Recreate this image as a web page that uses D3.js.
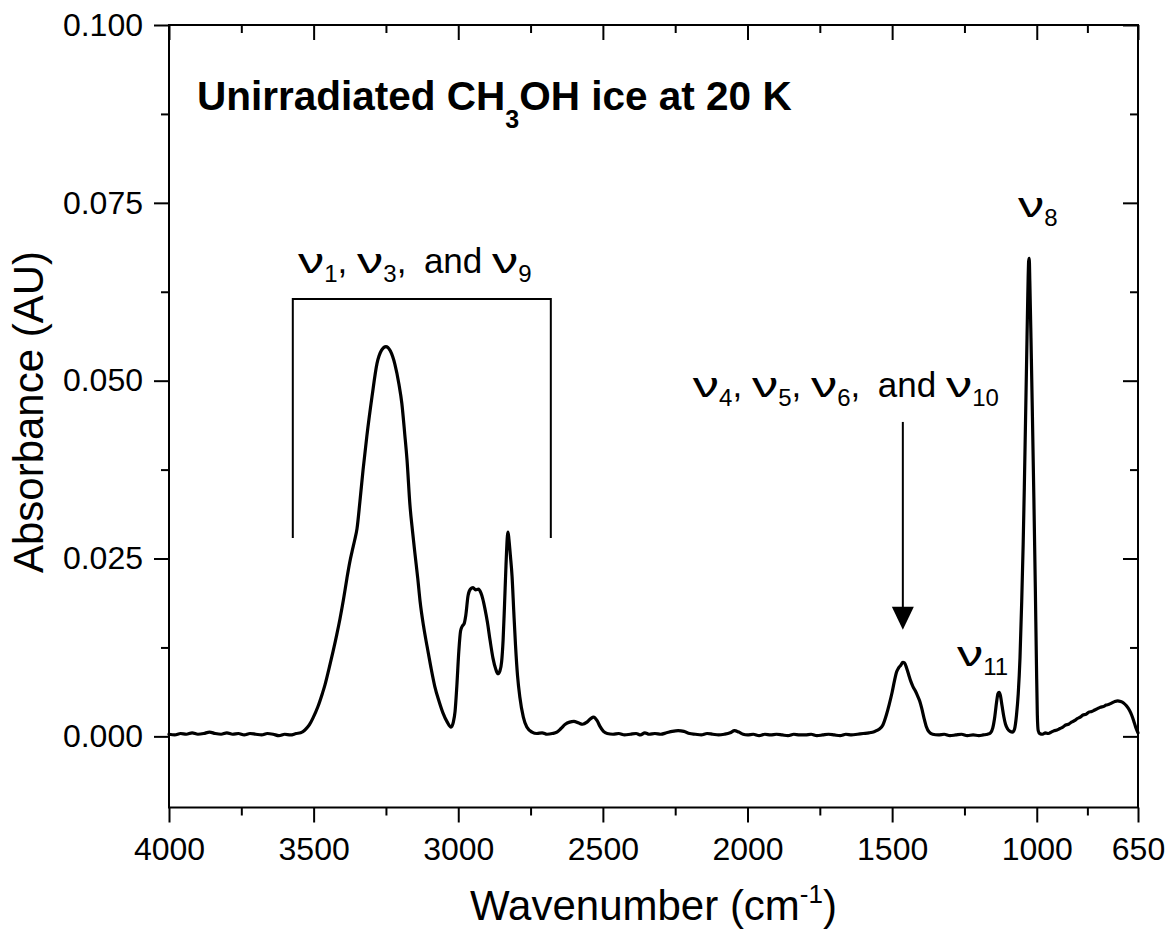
<!DOCTYPE html>
<html>
<head>
<meta charset="utf-8">
<script src="https://cdn.jsdelivr.net/npm/d3@7"></script>
<style>
  html, body { margin: 0; padding: 0; background: #fff; }
  svg { display: block; font-family: "Liberation Sans", Arial, sans-serif; }
  text { white-space: pre; }
</style>
</head>
<body>
<svg id="chart" width="1174" height="936"></svg>
<script>
// FTIR spectrum of unirradiated CH3OH ice at 20 K (wavenumber in cm^-1, absorbance in AU)
const wavenumber = [
  4000, 3980, 3960, 3940, 3920, 3900, 3880, 3860, 3840, 3820, 3800, 3780, 3760, 3740, 3720, 3700,
  3680, 3660, 3640, 3620, 3600, 3580, 3560, 3545, 3530, 3515, 3502, 3485, 3470, 3461, 3447, 3433,
  3420, 3409, 3397, 3385, 3375, 3367, 3358, 3350, 3340, 3329, 3316, 3298, 3281, 3265, 3250, 3235,
  3219, 3205, 3195, 3185, 3177, 3167, 3158, 3150, 3140, 3132, 3120, 3108, 3095, 3081, 3067, 3053,
  3038, 3025, 3017, 3011, 3005, 2998, 2992, 2986, 2980, 2974, 2966, 2958, 2949, 2940, 2930, 2922,
  2915, 2908, 2899, 2890, 2880, 2870, 2863, 2856, 2850, 2845, 2840, 2835, 2830, 2828, 2825, 2820,
  2814, 2808, 2802, 2795, 2787, 2775, 2763, 2745, 2728, 2710, 2693, 2675, 2659, 2645, 2630, 2615,
  2600, 2585, 2570, 2555, 2542, 2532, 2520, 2510, 2498, 2485, 2465, 2445, 2425, 2405, 2385, 2370,
  2355, 2340, 2320, 2300, 2280, 2260, 2240, 2220, 2200, 2180, 2160, 2140, 2120, 2100, 2080, 2060,
  2045, 2030, 2015, 2000, 1980, 1960, 1940, 1920, 1900, 1880, 1860, 1840, 1820, 1800, 1780, 1760,
  1740, 1720, 1700, 1680, 1660, 1640, 1620, 1600, 1580, 1560, 1545, 1532, 1520, 1510, 1500, 1492,
  1485, 1478, 1470, 1463, 1457, 1450, 1443, 1436, 1428, 1420, 1412, 1405, 1398, 1390, 1382, 1372,
  1360, 1340, 1320, 1300, 1280, 1260, 1240, 1220, 1200, 1185, 1170, 1160, 1152, 1145, 1139, 1134,
  1130, 1126, 1120, 1114, 1108, 1100, 1092, 1084, 1077, 1070, 1064, 1058, 1052, 1047, 1043, 1039,
  1035, 1031, 1028, 1026, 1024, 1020, 1015, 1010, 1005, 1001, 998, 995, 990, 980, 970, 960,
  950, 940, 930, 920, 910, 900, 890, 880, 870, 860, 850, 840, 830, 820, 810, 800,
  790, 780, 770, 760, 750, 740, 730, 720, 710, 700, 690, 680, 672, 665, 658, 650
];
const absorbance = [
  0.0003, 0.0002, 0.0004, 0.0003, 0.0005, 0.0003, 0.0004, 0.0006, 0.0004, 0.0003, 0.0005, 0.0003, 0.0004, 0.0002, 0.0004, 0.0003,
  0.0002, 0.0004, 0.0003, 0.0001, 0.0003, 0.0002, 0.0004, 0.0005, 0.0009, 0.0016, 0.0026, 0.0042, 0.0060, 0.0072, 0.0095, 0.0119,
  0.0143, 0.0165, 0.0192, 0.0222, 0.0245, 0.0260, 0.0276, 0.0292, 0.0330, 0.0375, 0.0422, 0.0478, 0.0524, 0.0543, 0.0548, 0.0542,
  0.0523, 0.0495, 0.0468, 0.0425, 0.0388, 0.0325, 0.0288, 0.0258, 0.0222, 0.0190, 0.0155, 0.0127, 0.0098, 0.0070, 0.0050, 0.0033,
  0.0020, 0.0013, 0.0020, 0.0035, 0.0070, 0.0120, 0.0148, 0.0155, 0.0158, 0.0170, 0.0198, 0.0207, 0.0209, 0.0206, 0.0207, 0.0202,
  0.0193, 0.0180, 0.0160, 0.0135, 0.0110, 0.0094, 0.0088, 0.0092, 0.0105, 0.0135, 0.0185, 0.0240, 0.0282, 0.0287, 0.0278, 0.0255,
  0.0225, 0.0175, 0.0128, 0.0085, 0.0055, 0.0027, 0.0013, 0.0006, 0.0004, 0.0005, 0.0003, 0.0004, 0.0006, 0.0011, 0.0017, 0.0020,
  0.0021, 0.0019, 0.0017, 0.0020, 0.0025, 0.0027, 0.0022, 0.0014, 0.0007, 0.0004, 0.0003, 0.0004, 0.0002, 0.0003, 0.0004, 0.0002,
  0.0005, 0.0003, 0.0004, 0.0003, 0.0005, 0.0007, 0.0008, 0.0007, 0.0004, 0.0003, 0.0002, 0.0004, 0.0003, 0.0002, 0.0003, 0.0005,
  0.0008, 0.0006, 0.0003, 0.0002, 0.0003, 0.0001, 0.0003, 0.0002, 0.0003, 0.0002, 0.0001, 0.0003, 0.0002, 0.0002, 0.0003, 0.0001,
  0.0002, 0.0003, 0.0002, 0.0001, 0.0003, 0.0002, 0.0003, 0.0004, 0.0005, 0.0007, 0.0010, 0.0016, 0.0030, 0.0045, 0.0062, 0.0078,
  0.0090, 0.0096, 0.0100, 0.0104, 0.0103, 0.0096, 0.0087, 0.0078, 0.0070, 0.0064, 0.0057, 0.0050, 0.0040, 0.0026, 0.0014, 0.0006,
  0.0003, 0.0002, 0.0003, 0.0001, 0.0002, 0.0003, 0.0001, 0.0002, 0.0001, 0.0002, 0.0003, 0.0005, 0.0012, 0.0028, 0.0048, 0.0060,
  0.0062, 0.0058, 0.0043, 0.0028, 0.0017, 0.0010, 0.0007, 0.0006, 0.0010, 0.0030, 0.0060, 0.0110, 0.0190, 0.0270, 0.0350, 0.0440,
  0.0530, 0.0620, 0.0668, 0.0672, 0.0640, 0.0560, 0.0450, 0.0335, 0.0210, 0.0100, 0.0030, 0.0008, 0.0004, 0.0003, 0.0005, 0.0004,
  0.0006, 0.0008, 0.0009, 0.0011, 0.0013, 0.0016, 0.0017, 0.0020, 0.0022, 0.0025, 0.0027, 0.0030, 0.0031, 0.0034, 0.0035, 0.0037,
  0.0039, 0.0041, 0.0042, 0.0044, 0.0045, 0.0047, 0.0049, 0.0050, 0.0049, 0.0047, 0.0043, 0.0037, 0.0030, 0.0022, 0.0013, 0.0005
];

// Axis ticks
const xMajorTicks = [4000, 3500, 3000, 2500, 2000, 1500, 1000, 650];
const xMinorTicks = [3750, 3250, 2750, 2250, 1750, 1250, 825];
const yMajorTicks = [0, 0.025, 0.05, 0.075, 0.1];
const yMinorTicks = [0.0125, 0.0375, 0.0625, 0.0875];

const xDomain = [4000, 650];
const yDomain = [-0.01, 0.1];

// Band assignments and their anchor points in data units
const bracketBand = { from: 3572, to: 2680, top: 0.0615, bottom: 0.0279 };
const arrowBand = { at: 1463, top: 0.0442, tip: 0.0150 };
const bandLabels = [
  { wn: 3554, abs: 0.0651, parts: [["nu"], ["sub", "1"], ["txt", ", "], ["nu"], ["sub", "3"], ["txt", ",\u2002and "], ["nu"], ["sub", "9"]] },
  { wn: 2189, abs: 0.0477, parts: [["nu"], ["sub", "4"], ["txt", ", "], ["nu"], ["sub", "5"], ["txt", ", "], ["nu"], ["sub", "6"], ["txt", ",\u2002and "], ["nu"], ["sub", "10"]] },
  { wn: 1065, abs: 0.0730, parts: [["nu"], ["sub", "8"]] },
  { wn: 1276, abs: 0.0099, parts: [["nu"], ["sub", "11"]] }
];
const titleAnchor = { wn: 3903, abs: 0.0880 };

const margin = { left: 169, right: 1138, top: 25, bottom: 807.5 };
const svg = d3.select("#chart");

const x = d3.scaleLinear().domain(xDomain).range([margin.left, margin.right]);
const y = d3.scaleLinear().domain(yDomain).range([margin.bottom, margin.top]);

const AXIS_W = 2;
const TICK_FONT = 32;

function styleAxis(g) {
  g.select(".domain").remove();
  g.selectAll(".tick line").attr("stroke", "#000").attr("stroke-width", AXIS_W);
  g.selectAll(".tick text").attr("fill", "#000").attr("font-size", TICK_FONT)
    .attr("font-family", "'Liberation Sans', Arial, sans-serif");
}

// Bottom axis (ticks outward, labelled)
svg.append("g").attr("transform", `translate(0,${margin.bottom})`)
  .call(d3.axisBottom(x).tickValues(xMajorTicks).tickSize(15).tickPadding(15).tickFormat(d3.format("d")))
  .call(styleAxis);
svg.append("g").attr("transform", `translate(0,${margin.bottom})`)
  .call(d3.axisBottom(x).tickValues(xMinorTicks).tickSize(8).tickFormat(""))
  .call(styleAxis);
// Top axis (ticks inward)
svg.append("g").attr("transform", `translate(0,${margin.top})`)
  .call(d3.axisBottom(x).tickValues(xMajorTicks).tickSize(15).tickFormat(""))
  .call(styleAxis);
svg.append("g").attr("transform", `translate(0,${margin.top})`)
  .call(d3.axisBottom(x).tickValues(xMinorTicks).tickSize(8).tickFormat(""))
  .call(styleAxis);
// Left axis (ticks outward, labelled)
svg.append("g").attr("transform", `translate(${margin.left},0)`)
  .call(d3.axisLeft(y).tickValues(yMajorTicks).tickSize(15).tickPadding(11).tickFormat(d3.format(".3f")))
  .call(styleAxis);
svg.append("g").attr("transform", `translate(${margin.left},0)`)
  .call(d3.axisLeft(y).tickValues(yMinorTicks).tickSize(8).tickFormat(""))
  .call(styleAxis);
// Right axis (ticks inward)
svg.append("g").attr("transform", `translate(${margin.right},0)`)
  .call(d3.axisLeft(y).tickValues(yMajorTicks).tickSize(15).tickFormat(""))
  .call(styleAxis);
svg.append("g").attr("transform", `translate(${margin.right},0)`)
  .call(d3.axisLeft(y).tickValues(yMinorTicks).tickSize(8).tickFormat(""))
  .call(styleAxis);

// Plot frame
svg.append("rect")
  .attr("x", margin.left).attr("y", margin.top)
  .attr("width", margin.right - margin.left).attr("height", margin.bottom - margin.top)
  .attr("fill", "none").attr("stroke", "#000").attr("stroke-width", AXIS_W);

// Axis titles
svg.append("text")
  .attr("x", (margin.left + margin.right) / 2).attr("y", 920)
  .attr("text-anchor", "middle").attr("font-size", 42).attr("fill", "#000")
  .call(t => {
    t.append("tspan").text("Wavenumber (cm");
    t.append("tspan").attr("font-size", 26).attr("dy", -17).text("-1");
    t.append("tspan").attr("dy", 17).text(")");
  });
svg.append("text")
  .attr("transform", `translate(43,412) rotate(-90)`)
  .attr("text-anchor", "middle").attr("font-size", 42).attr("fill", "#000")
  .text("Absorbance (AU)");

// Spectrum
const spectrum = wavenumber.map((w, i) => [w, absorbance[i]]);
svg.append("path")
  .datum(spectrum)
  .attr("fill", "none").attr("stroke", "#000").attr("stroke-width", 3.2)
  .attr("stroke-linejoin", "round").attr("stroke-linecap", "round")
  .attr("d", d3.line().x(d => x(d[0])).y(d => y(d[1])).curve(d3.curveMonotoneX));

// Bracket over the O-H / C-H stretch region
svg.append("path")
  .attr("fill", "none").attr("stroke", "#000").attr("stroke-width", AXIS_W)
  .attr("d", d3.line()([
    [x(bracketBand.from), y(bracketBand.bottom)],
    [x(bracketBand.from), y(bracketBand.top)],
    [x(bracketBand.to), y(bracketBand.top)],
    [x(bracketBand.to), y(bracketBand.bottom)]
  ]));

// Arrow pointing at the deformation bands
const ax = x(arrowBand.at), aTip = y(arrowBand.tip), headLen = 23, headHalf = 11;
svg.append("line")
  .attr("x1", ax).attr("x2", ax).attr("y1", y(arrowBand.top)).attr("y2", aTip - headLen + 1)
  .attr("stroke", "#000").attr("stroke-width", AXIS_W);
svg.append("path")
  .attr("fill", "#000")
  .attr("d", `M${ax - headHalf},${aTip - headLen}L${ax + headHalf},${aTip - headLen}L${ax},${aTip}Z`);

// Labels built from pieces: nu glyphs, subscripts and plain text
const LABEL_FONT = 35, SUB_FONT = 24, SUB_DY = 9, NU_STRETCH = 1.5;
function drawLabel(lbl) {
  const g = svg.append("g").attr("transform", `translate(${x(lbl.wn)},${y(lbl.abs)})`);
  let cx = 0;
  lbl.parts.forEach(([kind, str]) => {
    if (kind === "nu") {
      const holder = g.append("g").attr("transform", `translate(${cx},0) scale(${NU_STRETCH},1)`);
      const t = holder.append("text").attr("font-size", LABEL_FONT).attr("fill", "#000").text("\u03BD");
      cx += t.node().getComputedTextLength() * NU_STRETCH;
    } else if (kind === "sub") {
      const t = g.append("text").attr("x", cx).attr("y", SUB_DY)
        .attr("font-size", SUB_FONT).attr("fill", "#000").text(str);
      cx += t.node().getComputedTextLength();
    } else {
      const t = g.append("text").attr("x", cx).attr("font-size", LABEL_FONT).attr("fill", "#000").text(str);
      cx += t.node().getComputedTextLength();
    }
  });
}
bandLabels.forEach(drawLabel);

// Title
svg.append("text")
  .attr("x", x(titleAnchor.wn)).attr("y", y(titleAnchor.abs))
  .attr("font-size", 40.5).attr("font-weight", "bold").attr("fill", "#000")
  .call(t => {
    t.append("tspan").text("Unirradiated CH");
    t.append("tspan").attr("font-size", 25).attr("dy", 18).text("3");
    t.append("tspan").attr("dy", -18).text("OH ice at 20 K");
  });
</script>
</body>
</html>
